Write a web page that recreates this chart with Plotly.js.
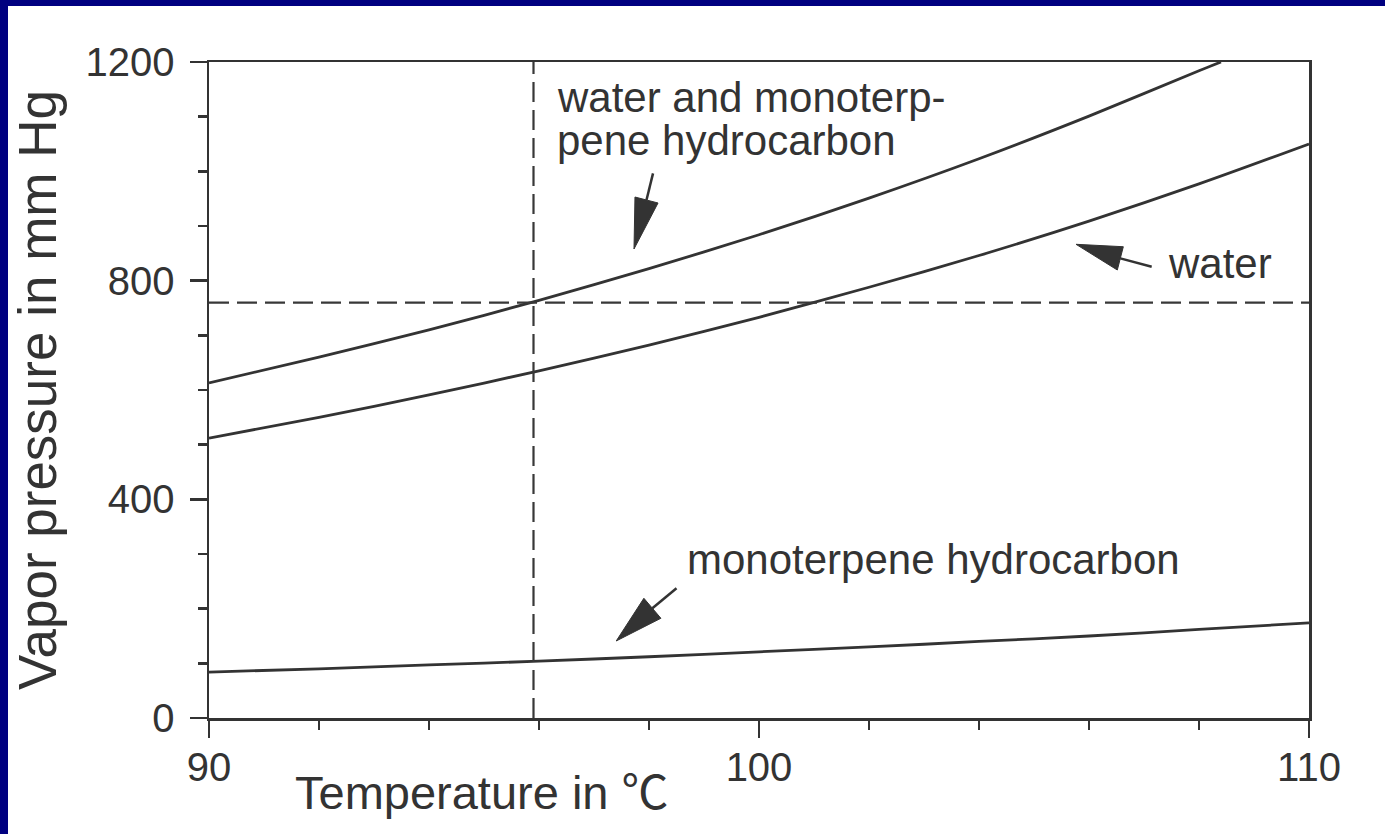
<!DOCTYPE html>
<html>
<head>
<meta charset="utf-8">
<script src="https://cdn.plot.ly/plotly-3.0.1.min.js"></script>
<style>
  html, body { margin: 0; padding: 0; background: #ffffff; width: 100%; height: 100%; overflow: hidden; }
  #chart { position: absolute; left: 8px; top: 6px; width: 1377px; height: 828px; background: #ffffff; }
  #barLeft { position: absolute; left: 0; top: 0; width: 8px; height: 100%; background: #000080; z-index: 5; }
  #barTop { position: absolute; left: 0; top: 0; width: 100%; height: 6px; background: #000080; z-index: 5; }
</style>
</head>
<body>
<div id="chart"></div>
<div id="barLeft"></div>
<div id="barTop"></div>
<script>
// ---- data ----
const temps = [90, 92, 94, 96, 98, 100, 102, 104, 106, 108, 110];
const waterP = [512, 550, 591, 635, 682, 733, 788, 846, 909, 977, 1050];
const monoP = [84, 90, 97, 104, 112, 121, 130, 140, 150, 162, 174];
const mixT = [90, 92, 94, 96, 98, 100, 102, 104, 106, 108, 108.4];
const mixP = [613, 660, 710, 764, 822, 884, 951, 1023, 1101, 1184, 1200];
const boilT = 95.9;      // boiling point of the mixture
const atmP = 760;        // atmospheric pressure
const xTickVals = [90, 100, 110];
const yTickVals = [0, 400, 800, 1200];

const ink = '#333333';
const FONT = '"Liberation Sans", Arial, Helvetica, "Noto Sans CJK JP", sans-serif';

const curveLine = { color: ink, width: 2.8, shape: 'spline', smoothing: 0.8 };
const dashLine = { color: '#383838', width: 2.2, dash: '20px,8px' };

const traces = [
  { x: temps, y: waterP, mode: 'lines', line: curveLine, name: 'water', hoverinfo: 'skip' },
  { x: mixT, y: mixP, mode: 'lines', line: curveLine, name: 'water and monoterpene hydrocarbon', hoverinfo: 'skip' },
  { x: temps, y: monoP, mode: 'lines', line: curveLine, name: 'monoterpene hydrocarbon', hoverinfo: 'skip' },
  { x: [boilT, boilT], y: [0, 1200], mode: 'lines', line: dashLine, hoverinfo: 'skip', name: 'boiling point' },
  { x: [90, 110], y: [atmP, atmP], mode: 'lines', line: dashLine, hoverinfo: 'skip', name: '760 mm Hg' }
];

function arrow(tail, baseA, baseB, tip) {
  const mx = (baseA[0] + baseB[0]) / 2, my = (baseA[1] + baseB[1]) / 2;
  return [
    { type: 'line', xref: 'x', yref: 'y', x0: tail[0], y0: tail[1], x1: mx, y1: my,
      line: { color: ink, width: 2.5 } },
    { type: 'path', xref: 'x', yref: 'y',
      path: `M ${baseA[0]},${baseA[1]} L ${tip[0]},${tip[1]} L ${baseB[0]},${baseB[1]} Z`,
      fillcolor: ink, line: { color: ink, width: 1 } }
  ];
}

const shapes = [].concat(
  arrow([98.073, 996.3], [97.745, 953.0], [98.164, 942.1], [97.727, 857.9]),
  arrow([107.14, 825.6], [106.624, 862.1], [106.515, 819.5], [105.764, 866.5]),
  arrow([98.5, 237.3], [97.907, 219.0], [98.216, 182.4], [97.404, 140.9])
);

const annFont = { family: FONT, size: 42, color: ink };
const annotations = [
  { x: 96.29, y: 1135, xref: 'x', yref: 'y', text: 'water and monoterp-', showarrow: false,
    xanchor: 'left', yanchor: 'middle', font: annFont },
  { x: 96.29, y: 1057, xref: 'x', yref: 'y', text: 'pene hydrocarbon', showarrow: false,
    xanchor: 'left', yanchor: 'middle', font: annFont },
  { x: 107.4, y: 832, xref: 'x', yref: 'y', text: 'water', showarrow: false,
    xanchor: 'left', yanchor: 'middle', font: annFont },
  { x: 98.655, y: 290, xref: 'x', yref: 'y', text: 'monoterpene hydrocarbon', showarrow: false,
    xanchor: 'left', yanchor: 'middle', font: annFont },
  { x: 0.2486, y: -0.114, xref: 'paper', yref: 'paper', text: 'Temperature in ℃', showarrow: false,
    xanchor: 'center', yanchor: 'middle', font: { family: FONT, size: 47, color: ink } }
];

const layout = {
  width: 1377, height: 828,
  margin: { l: 201, r: 76, t: 56, b: 116 },
  paper_bgcolor: '#ffffff', plot_bgcolor: '#ffffff',
  showlegend: false,
  font: { family: FONT, color: ink },
  xaxis: {
    range: [90, 110], tickvals: xTickVals, ticktext: xTickVals.map(String),
    showgrid: false, zeroline: false,
    showline: true, linecolor: ink, linewidth: 2.5, mirror: true,
    ticks: 'outside', ticklen: 17, tickwidth: 2.5, tickcolor: ink,
    minor: { dtick: 2, ticks: 'outside', ticklen: 9, tickwidth: 2.5, tickcolor: ink, showgrid: false },
    tickfont: { family: FONT, size: 40, color: ink },
    ticklabelstandoff: -5,
    fixedrange: true
  },
  yaxis: {
    range: [0, 1200], tickvals: yTickVals, ticktext: yTickVals.map(String),
    showgrid: false, zeroline: false,
    showline: true, linecolor: ink, linewidth: 2.5, mirror: true,
    ticks: 'outside', ticklen: 17, tickwidth: 2.5, tickcolor: ink,
    minor: { dtick: 100, ticks: 'outside', ticklen: 9, tickwidth: 2.5, tickcolor: ink, showgrid: false },
    tickfont: { family: FONT, size: 40, color: ink },
    ticklabelstandoff: 7,
    title: { text: 'Vapor pressure in mm Hg', font: { family: FONT, size: 53, color: ink }, standoff: 14 },
    fixedrange: true
  },
  shapes: shapes,
  annotations: annotations
};

Plotly.newPlot('chart', traces, layout, { displayModeBar: false, staticPlot: true });
</script>
</body>
</html>
